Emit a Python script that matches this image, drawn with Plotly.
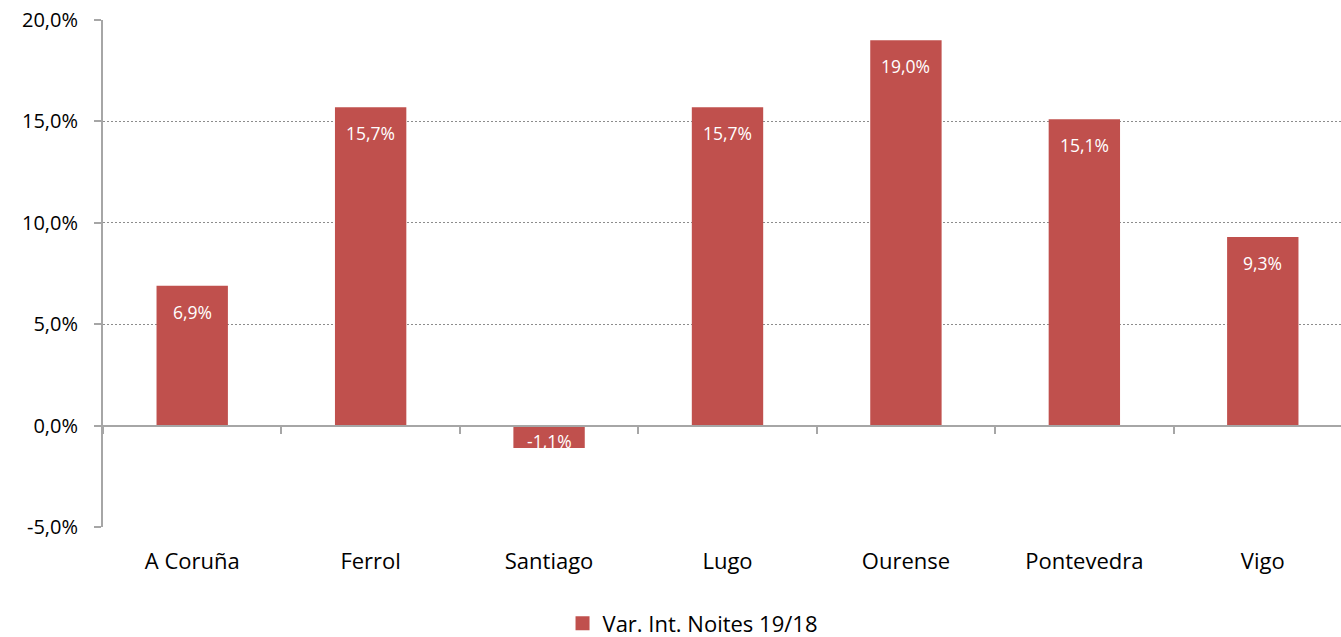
import plotly.graph_objects as go

categories = ["A Coruña", "Ferrol", "Santiago", "Lugo", "Ourense", "Pontevedra", "Vigo"]
values = [6.9, 15.7, -1.1, 15.7, 19.0, 15.1, 9.3]
series_name = "Var. Int. Noites 19/18"
y_ticks = [-5, 0, 5, 10, 15, 20]
y_ticktext = [f"{t:.1f}%".replace(".", ",") for t in y_ticks]

bar_color = "#C0504D"
axis_gray = "#A6A6A6"
font_family = "'Open Sans', Lato, sans-serif"

fig = go.Figure()
fig.add_trace(go.Bar(
    x=categories, y=values, name=series_name,
    marker=dict(color=bar_color, line=dict(width=0)),
    showlegend=False, hoverinfo="x+y",
))
# invisible copy to carry category labels at bottom
fig.add_trace(go.Bar(
    x=categories, y=values, xaxis="x2", opacity=0,
    showlegend=False, hoverinfo="skip",
    marker=dict(color=bar_color),
))
# legend entry with a larger square swatch
fig.add_trace(go.Scatter(
    x=[None], y=[None], mode="markers", name=series_name,
    marker=dict(symbol="square", size=14, color=bar_color),
    showlegend=True,
))

for c, v in zip(categories, values):
    fig.add_annotation(
        x=c, y=v, xref="x", yref="y",
        text=f"{v:.1f}%".replace(".", ","),
        showarrow=False, yanchor="middle",
        yshift=-26 if v > 0 else 7,
        font=dict(family=font_family, size=17.5, color="white"),
    )

fig.update_layout(
    width=1352, height=637,
    margin=dict(l=103, r=0, t=20, b=110, autoexpand=False),
    paper_bgcolor="white", plot_bgcolor="white",
    bargap=0.6,
    barmode="overlay",
    font=dict(family=font_family, size=20, color="#000000"),
    xaxis=dict(
        type="category", range=[-0.5, 6.5],
        anchor="free", position=0.2,
        tickson="boundaries", ticks="outside", ticklen=7, tickwidth=2,
        tickcolor=axis_gray, showline=True, linecolor=axis_gray, linewidth=2,
        showticklabels=False, showgrid=False, zeroline=False, automargin=False,
    ),
    xaxis2=dict(
        type="category", range=[-0.5, 6.5], overlaying="x", anchor="y",
        side="bottom", showline=False, ticks="", showgrid=False,
        tickfont=dict(family=font_family, size=22, color="#000000"),
        ticklabelstandoff=19, automargin=False,
    ),
    yaxis=dict(
        range=[-5, 20], tickvals=y_ticks, ticktext=y_ticktext,
        showgrid=True, gridcolor="#8C8C8C", griddash="2px,2px", gridwidth=1,
        zeroline=False, showline=True, linecolor=axis_gray, linewidth=2,
        ticks="outside", ticklen=7, tickwidth=2, tickcolor=axis_gray,
        tickfont=dict(family=font_family, size=20, color="#000000"),
        ticklabelstandoff=12, ticklabeloverflow="allow",
        domain=[0, 1], automargin=False,
    ),
    legend=dict(
        orientation="h", x=0.472, xanchor="center", y=-0.19, yanchor="middle",
        font=dict(family=font_family, size=22, color="#000000"),
        itemwidth=30,
    ),
)

fig.write_html(
    "out.html",
    config={"displayModeBar": False},
    post_script="document.body.style.margin='0';document.body.style.overflow='hidden';",
)
